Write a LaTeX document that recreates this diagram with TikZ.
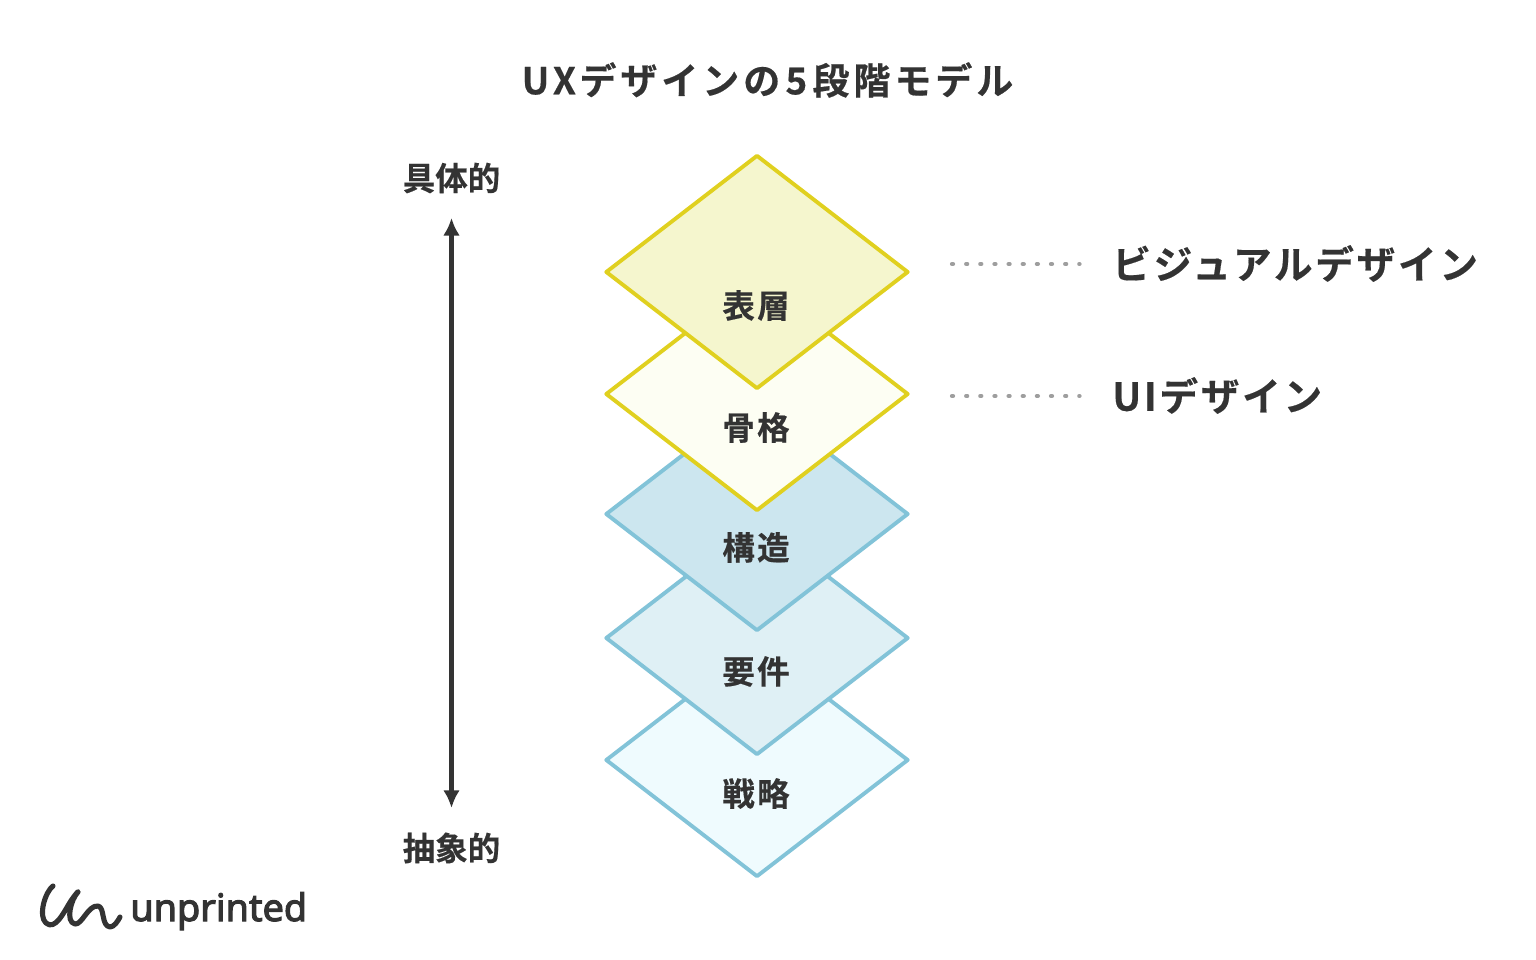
\documentclass[tikz,border=0pt]{standalone}
\usepackage{fontspec}
\usetikzlibrary{shapes.geometric, arrows.meta}
\setmainfont{Noto Sans CJK JP}[BoldFont={Noto Sans CJK JP Bold}]
\newfontfamily\titlefont{Noto Sans CJK JP Bold}[LetterSpace=11, FakeBold=0.5]
\newfontfamily\sidefont{Noto Sans CJK JP Bold}[LetterSpace=7, FakeBold=0.4]
\newfontfamily\layerfont{Noto Sans CJK JP Bold}[LetterSpace=7, FakeBold=0.4]
\newfontfamily\endfont{Noto Sans CJK JP Bold}[FakeBold=0.4]
\newfontfamily\logofont{Noto Sans}[FakeBold=3]
\definecolor{inkdark}{HTML}{333333}
\definecolor{yellowline}{HTML}{E0D01F}
\definecolor{blueline}{HTML}{82C3D8}
\definecolor{surfacefill}{HTML}{F5F6CE}
\definecolor{skeletonfill}{HTML}{FDFEF3}
\definecolor{structurefill}{HTML}{CCE6EF}
\definecolor{scopefill}{HTML}{DFF0F5}
\definecolor{strategyfill}{HTML}{EFFBFE}
\tikzset{
	layer/.style={diamond, draw, line width=2.2pt, minimum width=303*0.02cm, minimum height=234*0.02cm, inner sep=0pt, line join=round},
	layerlabel/.style={font=\layerfont\fontsize{18.5}{20}\selectfont, text=inkdark},
	sidelabel/.style={font=\sidefont\fontsize{22}{24}\selectfont, text=inkdark, anchor=west, inner sep=0pt, text height=20pt, text depth=3.2pt},
	endlabel/.style={font=\endfont\fontsize{18.5}{20}\selectfont, text=inkdark},
	dots/.style={line width=2.4pt, line cap=round, dash pattern=on 0.6pt off 7.45pt, color=black!38},
}
\begin{document}
\begin{tikzpicture}[x=0.02cm, y=-0.02cm, text=inkdark]
	\useasboundingbox (0, 0) rectangle (1536, 960);

	\node[font=\titlefont\fontsize{21}{22}\selectfont] (title) at (767.5, 80) {U\kern2pt X\kern2pt デザインの\kern3pt 5\kern3pt 段階モデル};

	% stacked from the bottom up
	\node[layer, draw=blueline, fill=strategyfill] (strategy) at (757, 760) {};
	\node[layer, draw=blueline, fill=scopefill] (scope) at (757, 638) {};
	\node[layer, draw=blueline, fill=structurefill] (structure) at (757, 514) {};
	\node[layer, draw=yellowline, fill=skeletonfill] (skeleton) at (757, 394) {};
	\node[layer, draw=yellowline, fill=surfacefill] (surface) at (757, 272) {};

	\node[layerlabel] (surfacetext) at (756, 305.5) {表層};
	\node[layerlabel] (skeletontext) at (756, 427.5) {骨格};
	\node[layerlabel] (structuretext) at (756, 547.5) {構造};
	\node[layerlabel] (scopetext) at (756, 671.5) {要件};
	\node[layerlabel] (strategytext) at (756, 793.5) {戦略};

	\node[endlabel] (concrete) at (451.5, 178) {具体的};
	\node[endlabel] (abstract) at (451.5, 848) {抽象的};
	\draw[line width=2.4pt, color=inkdark, {Latex[width=9.5pt, length=10pt]-Latex[width=9.5pt, length=10pt]}, shorten <=10.5pt, shorten >=10.5pt] (concrete) -- (abstract);

	\node[sidelabel] (visual) at (1112, 264) {ビジュアルデザイン};
	\node[sidelabel] (ui) at (1112, 396) {UIデザイン};
	\coordinate (visualdots) at (952, 264);
	\coordinate (uidots) at (952, 396);
	\draw[dots, shorten >=18.5pt] (visualdots) -- (visual.west);
	\draw[dots, shorten >=18.5pt] (uidots) -- (ui.west);

	% logo
	\draw[line width=2.9pt, line cap=round, line join=round, color=inkdark] (53, 886) .. controls (45, 892) and (38, 916) .. (46, 923) .. controls (55, 931) and (64, 912) .. (69, 904) .. controls (73, 897) and (80, 889) .. (78, 892) .. controls (71, 899) and (65, 922) .. (75, 924) .. controls (82, 925) and (88, 905) .. (98, 906) .. controls (105, 907) and (101, 926) .. (110, 927) .. controls (114, 927) and (118, 921) .. (120, 917);
	\node[font=\logofont\fontsize{21.5}{24}\selectfont, text=inkdark, anchor=base west, inner sep=0pt] (logo) at (130, 921) {unprinted};
\end{tikzpicture}
\end{document}
